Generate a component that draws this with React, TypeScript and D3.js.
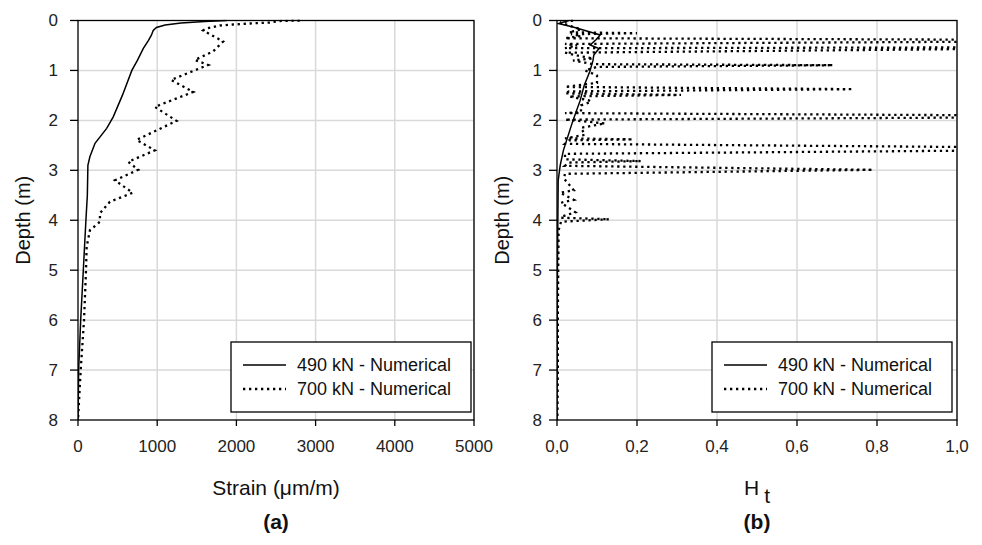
import * as d3 from 'd3';

const depthTicks = [0, 1, 2, 3, 4, 5, 6, 7, 8];
const strainTicks = [0, 1000, 2000, 3000, 4000, 5000];
const htTicks = [0, 0.2, 0.4, 0.6, 0.8, 1.0];
const legendNames = ['490 kN - Numerical', '700 kN - Numerical'];

// (a) strain profiles
const strain490Depth = [0, 0.02, 0.05, 0.09, 0.14, 0.2, 0.3, 0.4, 0.56, 0.8, 1.0, 1.5, 1.93, 2.16, 2.46, 2.73, 2.9, 3.5, 4.0, 5, 6, 7, 8];
const strain490 = [1880, 1600, 1300, 1100, 990, 950, 925, 890, 825, 750, 680, 560, 445, 362, 215, 150, 125, 118, 100, 67, 34, 8, 0];

const strain700Depth = [0, 0.01, 0.04, 0.06, 0.08, 0.1, 0.16, 0.2, 0.42, 0.62, 0.79, 0.89, 1.19, 1.43, 1.73, 2.01, 2.39, 2.6, 2.83, 2.99, 3.2, 3.45, 3.63, 3.86, 4.03, 4.2, 4.53, 5, 6, 7, 8];
const strain700 = [2800, 2550, 2420, 2170, 1960, 1790, 1620, 1580, 1833, 1706, 1475, 1643, 1175, 1455, 970, 1245, 740, 970, 634, 760, 467, 690, 403, 277, 277, 151, 109, 101, 76, 34, 0];

// (b) Ht profiles
const ht490Depth = [0, 0.06, 0.13, 0.2, 0.29, 0.38, 0.49, 0.56, 0.69, 0.8, 1.02, 1.3, 1.6, 2.0, 2.3, 2.6, 2.9, 3.2, 5, 8];
const ht490 = [0.03, 0.004, 0.04, 0.07, 0.108, 0.098, 0.083, 0.105, 0.092, 0.09, 0.082, 0.068, 0.058, 0.04, 0.028, 0.016, 0.008, 0.003, 0.001, 0];

const ht700Depth = [0, 0.04, 0.1, 0.18, 0.235, 0.255, 0.275, 0.31, 0.355, 0.4, 0.47, 0.5, 0.555, 0.53, 0.645, 0.7, 0.76, 0.8, 0.845, 0.875, 0.895, 0.93, 1.0, 1.1, 1.25, 1.33, 1.375, 1.42, 1.46, 1.49, 1.52, 1.6, 1.63, 1.7, 1.83, 1.855, 1.92, 1.985, 2.06, 2.15, 2.29, 2.36, 2.38, 2.4, 2.47, 2.57, 2.67, 2.78, 2.815, 2.845, 2.91, 2.99, 3.07, 3.16, 3.4, 3.45, 3.59, 3.65, 3.84, 3.93, 3.95, 3.98, 4.03, 4.2, 5, 6, 7, 8];
const ht700 = [0.04, 0.008, 0.03, 0.06, 0.03, 0.2, 0.035, 0.06, 0.02, 1.6, 0.02, 0.05, 0.02, 1.6, 0.02, 0.05, 0.09, 0.04, 0.07, 0.09, 0.69, 0.1, 0.07, 0.1, 0.1, 0.02, 0.74, 0.03, 0.02, 0.31, 0.03, 0.08, 0.085, 0.06, 0.06, 0.02, 1.6, 0.02, 0.12, 0.06, 0.07, 0.02, 0.19, 0.03, 0.02, 1.6, 0.02, 0.02, 0.21, 0.03, 0.02, 0.79, 0.02, 0.017, 0.042, 0.008, 0.042, 0.01, 0.046, 0.01, 0.01, 0.13, 0.01, 0.004, 0.003, 0.002, 0.002, 0.001];

const FONT = 'Liberation Sans, Arial, Helvetica, sans-serif';
const DOTS = '2.3 3.7';

function Panel(props: any) {
  const { left, right, top, bottom, xDomain, xTicks, fmt, series, xTitle, tag, clipId, yLabelGap, yTitleX, legendRight } = props;
  const x = d3.scaleLinear().domain(xDomain).range([left, right]);
  const y = d3.scaleLinear().domain([0, 8]).range([top, bottom]);
  const path = (depth: number[], vals: number[]) =>
    d3.line<number>().x((_, i) => x(vals[i])).y((d) => y(d))(depth) as string;
  const cx = (left + right) / 2;
  const lgL = legendRight - 240;
  return (
    <g>
      <defs>
        <clipPath id={clipId}>
          <rect x={left} y={top - 1} width={right - left} height={bottom - top + 2} />
        </clipPath>
      </defs>
      {xTicks.slice(1).map((t: number) => (
        <line key={'gx' + t} x1={x(t)} x2={x(t)} y1={top} y2={bottom} stroke="#d9d9d9" strokeWidth={1.5} />
      ))}
      {depthTicks.slice(1, -1).map((t) => (
        <line key={'gy' + t} x1={left} x2={right} y1={y(t)} y2={y(t)} stroke="#d9d9d9" strokeWidth={1.5} />
      ))}
      <g clipPath={`url(#${clipId})`}>
        {series.map((s: any, i: number) => (
          <path key={i} d={path(s.depth, s.value)} fill="none" stroke="#000"
            strokeWidth={s.dotted ? 2.3 : 1.5} strokeDasharray={s.dotted ? DOTS : undefined} />
        ))}
      </g>
      <rect x={left} y={top} width={right - left} height={bottom - top} fill="none" stroke="#000" strokeWidth={1.3} />
      {depthTicks.map((t) => (
        <g key={'ty' + t}>
          <line x1={left - 8} x2={left} y1={y(t)} y2={y(t)} stroke="#000" strokeWidth={1.3} />
          <text x={left - yLabelGap} y={y(t)} dy="0.35em" textAnchor="end" fontSize={17} fontFamily={FONT} fill="#222">{t}</text>
        </g>
      ))}
      {xTicks.map((t: number) => (
        <g key={'tx' + t}>
          <line x1={x(t)} x2={x(t)} y1={bottom} y2={bottom + 6} stroke="#000" strokeWidth={1.3} />
          <text x={x(t)} y={bottom + 26} dy="0.35em" textAnchor="middle" fontSize={17} fontFamily={FONT} fill="#222">{fmt(t)}</text>
        </g>
      ))}
      <text transform={`translate(${yTitleX},${(top + bottom) / 2}) rotate(-90)`} textAnchor="middle" fontSize={20} fontFamily={FONT} fill="#111">Depth (m)</text>
      <text x={cx} y={495} textAnchor="middle" fontSize={21} fontFamily={FONT} fill="#111">{xTitle}</text>
      <text x={cx} y={529} textAnchor="middle" fontSize={21} fontWeight="bold" fontFamily={FONT} fill="#111">{tag}</text>
      <rect x={lgL} y={342} width={240} height={70} fill="#fff" stroke="#000" strokeWidth={1.3} />
      {legendNames.map((n, i) => (
        <g key={n}>
          <line x1={lgL + 12} x2={lgL + 55} y1={365 + i * 24} y2={365 + i * 24} stroke="#000"
            strokeWidth={i ? 2.3 : 1.5} strokeDasharray={i ? DOTS : undefined} />
          <text x={lgL + 66} y={365 + i * 24} dy="0.35em" fontSize={18} fontFamily={FONT} fill="#111">{n}</text>
        </g>
      ))}
    </g>
  );
}

export default function App() {
  const htFmt = (v: number) => d3.format('.1f')(v).replace('.', ',');
  return (
    <svg width={982} height={545} style={{ position: 'absolute', left: 0, top: 0, background: '#fff' }}>
      <Panel left={78} right={474} top={20.5} bottom={420} xDomain={[0, 5000]} xTicks={strainTicks}
        fmt={(v: number) => String(v)} clipId="clipA" yLabelGap={20} yTitleX={30} legendRight={471}
        series={[{ depth: strain490Depth, value: strain490, dotted: false }, { depth: strain700Depth, value: strain700, dotted: true }]}
        xTitle={<tspan>Strain (μm/m)</tspan>} tag="(a)" />
      <Panel left={557} right={957} top={20.5} bottom={420} xDomain={[0, 1]} xTicks={htTicks}
        fmt={htFmt} clipId="clipB" yLabelGap={15} yTitleX={509} legendRight={952}
        series={[{ depth: ht490Depth, value: ht490, dotted: false }, { depth: ht700Depth, value: ht700, dotted: true }]}
        xTitle={<><tspan>H</tspan><tspan dx={5} dy={8}>t</tspan></>} tag="(b)" />
    </svg>
  );
}
